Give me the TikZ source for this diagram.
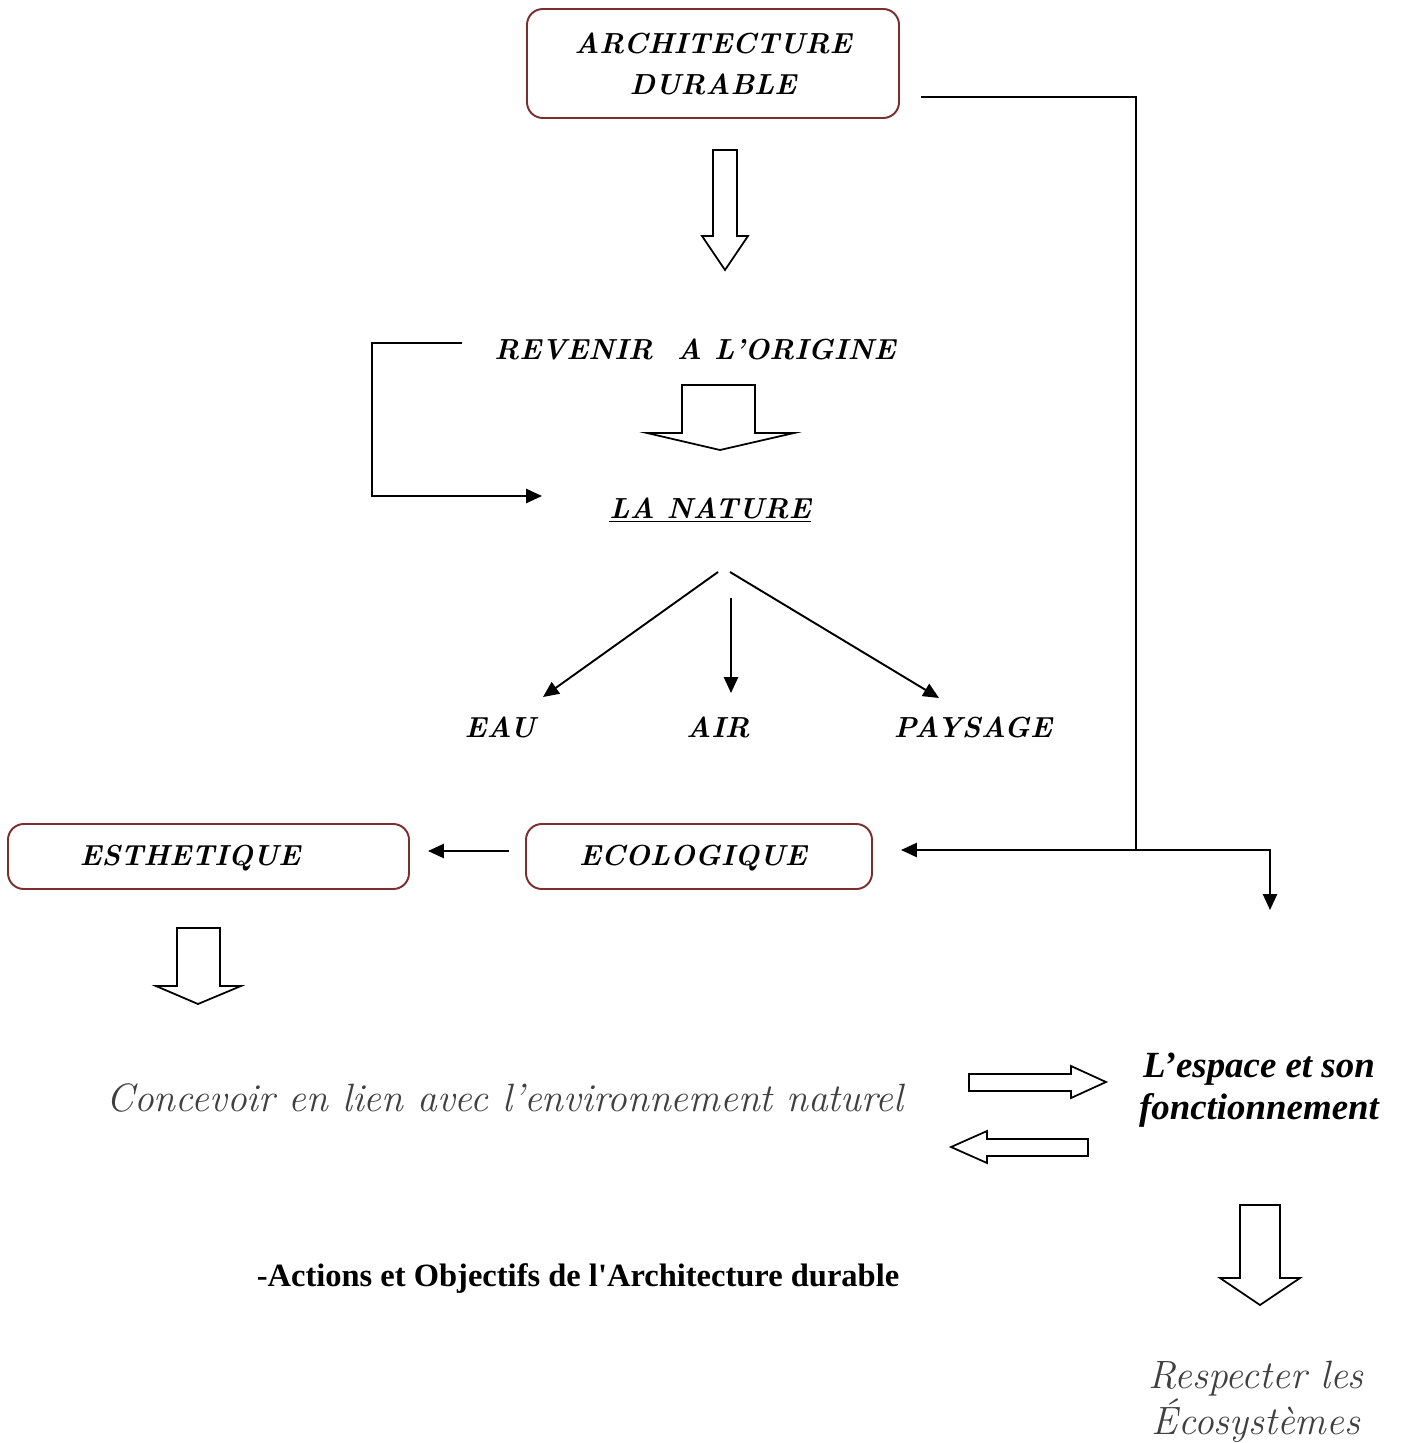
\documentclass[tikz,border=0pt]{standalone}
\usepackage{fontspec}
\newfontfamily\tnr{Liberation Serif}
\usetikzlibrary{arrows.meta}
\definecolor{boxred}{HTML}{7A2E2E}
\definecolor{softgray}{HTML}{404040}
\tikzset{
  rbox/.style={draw=boxred, line width=1.1pt, rounded corners=9pt, fill=white},
  script/.style={font=\fontsize{16.5}{23}\selectfont\bfseries\itshape, align=center},
  gscript/.style={font=\fontsize{22.5}{26}\selectfont\itshape, text=softgray, align=center},
  conn/.style={line width=1.1pt, -{Triangle[length=9pt,width=8pt]}},
  plain/.style={line width=1.1pt},
  blockarrow/.style={draw, line width=1pt, fill=white, line join=miter},
}
\begin{document}
\begin{tikzpicture}[x=0.02cm,y=-0.02cm]
\useasboundingbox (0,0) rectangle (1404,1443);
% boxes
\draw[rbox] (527,9) rectangle (899,118);
\node[script] (arch) at (713,64) {ARCHITECTURE\\DURABLE};
\draw[rbox] (8,824) rectangle (409,889);
\node[script] (esth) at (190,858) {ESTHETIQUE};
\draw[rbox] (526,824) rectangle (872,889);
\node[script] (eco) at (693,858) {ECOLOGIQUE};
\coordinate (ecoR) at (901,850);
\coordinate (ecoL) at (509,851);
\coordinate (esthR) at (428,851);
% texts
\node[script] (rev) at (695,349) {REVENIR\ \ A L'ORIGINE};
\node[script] (nat) at (710,510) {\underline{LA NATURE}};
\node[script] (eau) at (500,727) {EAU};
\node[script] (air) at (718,727) {AIR};
\node[script] (pay) at (973,727) {PAYSAGE};
\node[gscript] (conc) at (505,1098) {Concevoir en lien avec l'environnement naturel};
\node[font=\fontsize{21}{24}\selectfont\tnr\bfseries\itshape, align=center] (esp) at (1259,1090) {L’espace et son\\fonctionnement};
\node[font=\fontsize{18.5}{22}\selectfont\tnr\bfseries] (act) at (578,1279) {-Actions et Objectifs de l'Architecture durable};
\node[gscript] (resp) at (1256,1402) {Respecter les\\Écosystèmes};
% connectors
\coordinate (a1) at (921,97);
\coordinate (c1) at (1136,97);
\coordinate (c2) at (1136,850);
\coordinate (c3) at (1270,850);
\coordinate (c4) at (1270,910);
\draw[plain] (a1) -- (c1) -- (c2);
\draw[conn] (c2) -- (ecoR);
\draw[conn] (c2) -- (c3) -- (c4);
\draw[conn] (ecoL) -- (esthR);
\coordinate (r1) at (462,343);
\coordinate (r2) at (372,343);
\coordinate (r3) at (372,496);
\coordinate (r4) at (542,496);
\draw[conn] (r1) -- (r2) -- (r3) -- (r4);
\coordinate (n1) at (718,572);
\coordinate (n2) at (731,598);
\coordinate (n3) at (730,572);
\draw[conn] (n1) -- (543,697);
\draw[conn] (n2) -- (731,693);
\draw[conn] (n3) -- (939,698);
% block arrows
\draw[blockarrow] (713,150) -- (737,150) -- (737,236) -- (748,236) -- (725,270) -- (702,236) -- (713,236) -- cycle;
\draw[blockarrow] (682,385) -- (755,385) -- (755,433) -- (794,433) -- (720,450) -- (647,433) -- (682,433) -- cycle;
\draw[blockarrow] (177,928) -- (220,928) -- (220,986) -- (241,986) -- (198,1004) -- (156,986) -- (177,986) -- cycle;
\draw[blockarrow] (969,1074) -- (1071,1074) -- (1071,1066) -- (1106,1082) -- (1071,1098) -- (1071,1091) -- (969,1091) -- cycle;
\draw[blockarrow] (1088,1139) -- (987,1139) -- (987,1131) -- (951,1147) -- (987,1163) -- (987,1156) -- (1088,1156) -- cycle;
\draw[blockarrow] (1240,1205) -- (1280,1205) -- (1280,1278) -- (1300,1278) -- (1260,1305) -- (1220,1278) -- (1240,1278) -- cycle;
\end{tikzpicture}
\end{document}
